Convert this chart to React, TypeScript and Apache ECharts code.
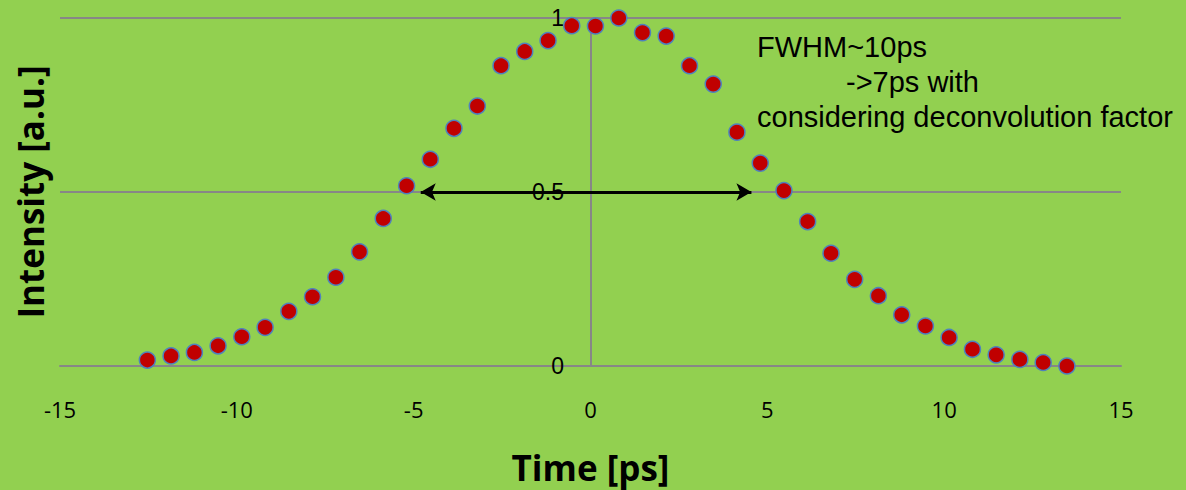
import React, { useEffect, useRef } from "react";
import * as echarts from "echarts";

// Measured pulse profile: delay time [ps] vs normalised intensity
const timePs = [
  -12.53, -11.86, -11.2, -10.53, -9.86, -9.2, -8.53, -7.86, -7.2, -6.53,
  -5.86, -5.2, -4.53, -3.86, -3.2, -2.53, -1.86, -1.2, -0.53, 0.14,
  0.8, 1.47, 2.14, 2.8, 3.47, 4.14, 4.8, 5.47, 6.14, 6.8,
  7.47, 8.14, 8.8, 9.47, 10.14, 10.8, 11.47, 12.14, 12.8, 13.47,
];
const intensity = [
  0.017, 0.029, 0.039, 0.058, 0.084, 0.111, 0.157, 0.199, 0.255, 0.328,
  0.424, 0.518, 0.594, 0.683, 0.747, 0.863, 0.904, 0.935, 0.978, 0.977,
  1.0, 0.958, 0.948, 0.863, 0.81, 0.672, 0.583, 0.504, 0.415, 0.324,
  0.249, 0.202, 0.147, 0.115, 0.082, 0.048, 0.032, 0.019, 0.01, 0.0,
];

// Half-maximum span marked by the double arrow
const fwhmStart = [-4.8, 0.5];
const fwhmEnd = [4.55, 0.5];

const noteLines = ["FWHM~10ps", "->7ps with", "considering deconvolution factor"];

const xTicks = { min: -15, max: 15, interval: 5 };
const yTicks = { min: 0, max: 1, interval: 0.5 };

const GRID_GRAY = "#878787";
const GRID_LEFT = 60;
// y tick labels sit just left of the vertical axis at t = 0
const Y_LABEL_RIGHT = 564;

export default function App() {
  const ref = useRef<HTMLDivElement>(null);

  useEffect(() => {
    if (!ref.current) return;
    const chart = echarts.init(ref.current, null, { renderer: "svg" });
    const points = timePs.map((t, i) => [t, intensity[i]]);
    const noteFont = { fontFamily: "'Liberation Sans', Arial, sans-serif", fontSize: 29, fill: "#000" };

    chart.setOption({
      animation: false,
      backgroundColor: "#92D050",
      grid: { left: GRID_LEFT, right: 65, top: 18, bottom: 124, containLabel: false, outerBoundsMode: "none" },
      xAxis: {
        type: "value",
        min: xTicks.min,
        max: xTicks.max,
        interval: xTicks.interval,
        name: "Time [ps]",
        nameLocation: "middle",
        nameGap: 84,
        nameTextStyle: { fontFamily: "'Open Sans', sans-serif", fontWeight: "bold", fontSize: 35, color: "#000" },
        axisLine: { show: true, lineStyle: { color: GRID_GRAY, width: 2 } },
        axisTick: { show: false },
        splitLine: { show: false },
        axisLabel: { margin: 32, color: "#000", fontFamily: "'Open Sans', sans-serif", fontSize: 22 },
      },
      yAxis: {
        type: "value",
        min: yTicks.min,
        max: yTicks.max,
        interval: yTicks.interval,
        axisLine: { show: true, onZero: true, lineStyle: { color: GRID_GRAY, width: 2 } },
        axisTick: { show: false },
        splitLine: { show: true, lineStyle: { color: GRID_GRAY, width: 2 } },
        axisLabel: {
          margin: GRID_LEFT - Y_LABEL_RIGHT,
          color: "#000",
          fontFamily: "'Liberation Sans', Arial, sans-serif",
          fontSize: 23,
          formatter: (v: number) => String(v),
        },
      },
      series: [
        {
          type: "scatter",
          data: points,
          symbol: "circle",
          symbolSize: 16,
          itemStyle: { color: "#C00000", borderColor: "#4F81BD", borderWidth: 1.5, opacity: 1 },
          z: 3,
          markLine: {
            silent: true,
            symbol: ["arrow", "arrow"],
            symbolSize: [13, 15],
            label: { show: false },
            lineStyle: { color: "#000", width: 3, type: "solid" },
            data: [[{ coord: fwhmStart }, { coord: fwhmEnd }]],
          },
        },
      ],
      graphic: [
        {
          type: "text",
          x: 30,
          y: 192,
          rotation: Math.PI / 2,
          style: {
            text: "Intensity [a.u.]",
            fontFamily: "'Open Sans', sans-serif",
            fontWeight: "bold",
            fontSize: 35,
            fill: "#000",
            align: "center",
            verticalAlign: "middle",
          },
        },
        ...noteLines.map((line, i) => ({
          type: "text",
          left: i === 1 ? 846 : 757,
          top: [32, 67, 102][i],
          style: { text: line, ...noteFont },
        })),
      ],
    });

    return () => chart.dispose();
  }, []);

  return (
    <div
      ref={ref}
      style={{ position: "absolute", left: 0, top: 0, width: 1186, height: 490 }}
    />
  );
}
